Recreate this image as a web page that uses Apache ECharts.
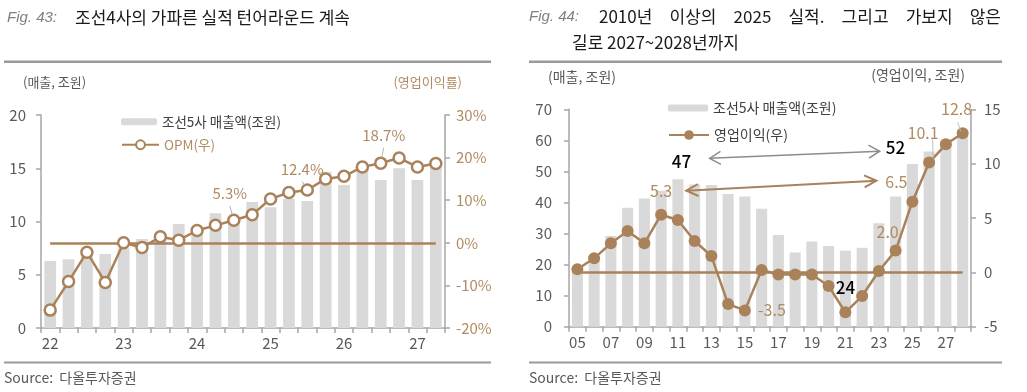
<!DOCTYPE html>
<html><head><meta charset="utf-8">
<script src="https://cdn.jsdelivr.net/npm/echarts@6/dist/echarts.min.js"></script>
<style>html,body{margin:0;padding:0;background:#fff;}#c{width:1027px;height:392px;}</style>
</head><body><div id="c"></div>
<script>
// ---------- Fig. 43 data (quarterly) ----------
const q_categories = ['22.1Q','22.2Q','22.3Q','22.4Q','23.1Q','23.2Q','23.3Q','23.4Q','24.1Q','24.2Q','24.3Q','24.4Q','25.1Q','25.2Q','25.3Q','25.4Q','26.1Q','26.2Q','26.3Q','26.4Q','27.1Q','27.2Q'];
const q_tick_labels = ['22','23','24','25','26','27'];
const q_revenue = [6.3, 6.45, 7.1, 6.95, 7.5, 8.35, 8.9, 9.77, 9.4, 10.77, 10.2, 11.83, 11.33, 12.14, 11.92, 14.68, 13.43, 15.4, 13.9, 15.0, 13.9, 15.15];
const q_opm = [-15.8, -9.1, -2.2, -9.3, 0.0, -1.1, 1.4, 0.6, 2.9, 4.1, 5.3, 6.6, 10.3, 11.8, 12.4, 15.0, 15.6, 17.8, 18.7, 19.9, 17.8, 18.6];
const q_opm_callouts = [[10, '5.3%'], [14, '12.4%'], [18, '18.7%']];

// ---------- Fig. 44 data (annual) ----------
const y_categories = ['05','06','07','08','09','10','11','12','13','14','15','16','17','18','19','20','21','22','23','24','25','26','27','28'];
const y_revenue = [18.5, 22.5, 29.2, 38.3, 41.3, 43.8, 47.5, 45.8, 45.6, 42.7, 41.9, 38.0, 29.5, 23.9, 27.4, 26.0, 24.5, 25.4, 33.3, 41.9, 52.4, 56.4, 60.3, 63.5];
const y_op = [0.28, 1.29, 2.67, 3.8, 2.67, 5.3, 4.81, 2.88, 1.5, -2.92, -3.5, 0.21, -0.19, -0.19, -0.2, -1.26, -3.68, -2.18, 0.12, 2.0, 6.5, 10.1, 11.78, 12.8];
const y_rev_callouts = [[6, '47'], [20, '52'], [16, '24']];
const y_op_callouts = [[5, '5.3'], [20, '6.5'], [19, '2.0'], [21, '10.1'], [23, '12.8'], [10, '-3.5']];

const FONT = "'Noto Sans CJK KR','Noto Sans',sans-serif";
const BROWN = '#A9825A', BROWN_T = '#B08B62', GRAY_T = '#595959', DARK_T = '#404040', BAR = '#D9D9D9', AXIS = '#A6A6A6';

const chart = echarts.init(document.getElementById('c'), null, {renderer: 'canvas'});

function xAx(grid, data, interval, fmt) {
  return {type: 'category', gridIndex: grid, data: data, boundaryGap: true,
    axisLine: {lineStyle: {color: AXIS, width: 1.5}},
    axisTick: {show: true, interval: 0, length: 5, lineStyle: {color: AXIS, width: 1.5}},
    axisLabel: {interval: interval, formatter: fmt, color: GRAY_T, fontSize: 15, margin: 8, fontFamily: FONT}};
}
function yAx(grid, pos, min, max, step, color, margin, fmt) {
  return {type: 'value', gridIndex: grid, position: pos, min: min, max: max, interval: step,
    axisLine: {show: true, lineStyle: {color: AXIS, width: 1.5}},
    axisTick: {show: true, length: 5, lineStyle: {color: AXIS, width: 1.5}},
    splitLine: {show: false},
    axisLabel: {color: color, fontSize: 15, margin: margin, fontFamily: FONT, formatter: fmt || '{value}'}};
}

const option = {
  animation: false,
  backgroundColor: '#fff',
  textStyle: {fontFamily: FONT},
  grid: [
    {left: 41, top: 115, width: 404, height: 213},
    {left: 569, top: 109.3, width: 402, height: 217.4}
  ],
  xAxis: [
    xAx(0, q_categories, 3, (v, i) => q_tick_labels[Math.floor(i / 4)]),
    xAx(1, y_categories, 1, v => v)
  ],
  yAxis: [
    yAx(0, 'left', 0, 20, 5, GRAY_T, 15),
    yAx(0, 'right', -20, 30, 10, BROWN_T, 11, '{value}%'),
    yAx(1, 'left', 0, 70, 10, GRAY_T, 17),
    yAx(1, 'right', -5, 15, 5, GRAY_T, 13)
  ],
  legend: [
    {data: ['조선5사 매출액(조원)'], left: 116, top: 110, itemWidth: 36, itemHeight: 7, itemGap: 4, selectedMode: false,
      textStyle: {color: DARK_T, fontSize: 13.5, fontFamily: FONT}},
    {data: ['OPM(우)'], left: 116, top: 133, itemWidth: 37, itemHeight: 11, selectedMode: false,
      textStyle: {color: BROWN_T, fontSize: 13.5, fontFamily: FONT}},
    {data: ['조선5사 매출액(조원)'], left: 663, top: 96, itemWidth: 40, itemHeight: 7, selectedMode: false,
      textStyle: {color: DARK_T, fontSize: 14, fontFamily: FONT}},
    {data: ['영업이익(우)'], left: 663, top: 123, itemWidth: 40, itemHeight: 12, selectedMode: false,
      textStyle: {color: DARK_T, fontSize: 14, fontFamily: FONT}}
  ],
  series: [
    {name: '조선5사 매출액(조원)', type: 'bar', xAxisIndex: 0, yAxisIndex: 0, data: q_revenue,
      barCategoryGap: '36%', itemStyle: {color: BAR}, z: 1},
    {name: 'OPM(우)', type: 'line', xAxisIndex: 0, yAxisIndex: 1, data: q_opm,
      symbol: 'circle', symbolSize: 11, showAllSymbol: true,
      lineStyle: {color: BROWN, width: 2.5}, itemStyle: {color: '#fff', borderColor: BROWN, borderWidth: 2.5}, z: 5,
      markLine: {silent: true, symbol: 'none', label: {show: false}, z: 3,
        lineStyle: {color: BROWN, width: 2.5, type: 'solid'},
        data: [[{coord: [q_categories[0], 0]}, {coord: [q_categories[q_categories.length - 1], 0]}]]}},
    {name: '조선5사 매출액(조원)', type: 'bar', xAxisIndex: 1, yAxisIndex: 2, data: y_revenue,
      barCategoryGap: '34%', itemStyle: {color: BAR}, z: 1},
    {name: '영업이익(우)', type: 'line', xAxisIndex: 1, yAxisIndex: 3, data: y_op,
      symbol: 'circle', symbolSize: 12, showAllSymbol: true,
      lineStyle: {color: BROWN, width: 2.5}, itemStyle: {color: BROWN}, z: 5,
      markLine: {silent: true, symbol: 'none', label: {show: false}, z: 3,
        lineStyle: {color: BROWN, width: 2.5, type: 'solid'},
        data: [[{coord: [y_categories[0], 0]}, {coord: [y_categories[y_categories.length - 1], 0]}]]}}
  ]
};
chart.setOption(option);

// ---------- helpers ----------
function P(seriesIndex, idx, val) {
  const i0 = Math.floor(idx), f = idx - i0;
  const a = chart.convertToPixel({seriesIndex: seriesIndex}, [i0, val]);
  if (!f) return a;
  const b = chart.convertToPixel({seriesIndex: seriesIndex}, [i0 + 1, val]);
  return [a[0] + (b[0] - a[0]) * f, a[1]];
}
function txt(x, y, text, o) {
  o = o || {};
  return {type: 'text', z: 100, style: {text: text, x: x, y: y, fill: o.fill || DARK_T,
    fontSize: o.size || 14, fontFamily: o.family || FONT, fontWeight: o.weight || 'normal',
    fontStyle: o.style || 'normal', align: o.align || 'left', verticalAlign: 'middle'}};
}
function line(p, q, color, w) {
  return {type: 'line', z: 100, shape: {x1: p[0], y1: p[1], x2: q[0], y2: q[1]}, style: {stroke: color, lineWidth: w}};
}
function head(tip, from, color, w, L, W) {
  const dx = tip[0] - from[0], dy = tip[1] - from[1], len = Math.hypot(dx, dy);
  const ux = dx / len, uy = dy / len, nx = -uy, ny = ux;
  return {type: 'polyline', z: 100, shape: {points: [[tip[0] - ux * L + nx * W, tip[1] - uy * L + ny * W], [tip[0], tip[1]], [tip[0] - ux * L - nx * W, tip[1] - uy * L - ny * W]]},
    style: {stroke: color, lineWidth: w, fill: null}};
}

const g = [];
// frame: titles, rules, sources, unit labels
g.push(txt(7, 17.5, 'Fig. 43:', {fill: '#7F7F7F', size: 15, family: "'Liberation Sans',Arial,sans-serif", style: 'italic'}));
g.push(txt(75, 17.5, '조선4사의 가파른 실적 턴어라운드 계속', {fill: '#1A1A1A', size: 17}));
g.push(txt(529, 17, 'Fig. 44:', {fill: '#7F7F7F', size: 15, family: "'Liberation Sans',Arial,sans-serif", style: 'italic'}));
(function () {
  const words = ['2010년', '이상의', '2025', '실적.', '그리고', '가보지', '않은'];
  const c = document.createElement('canvas').getContext('2d');
  c.font = "17px 'Noto Sans CJK KR'";
  const ws = words.map(w => c.measureText(w).width);
  const x0 = 599, x1 = 1001;
  const gap = (x1 - x0 - ws.reduce((a, b) => a + b, 0)) / (words.length - 1);
  let x = x0;
  words.forEach((w, i) => { g.push(txt(x, 17, w, {fill: '#1A1A1A', size: 17})); x += ws[i] + gap; });
})();
g.push(txt(572, 43, '길로 2027~2028년까지', {fill: '#1A1A1A', size: 17}));
g.push({type: 'rect', z: 100, shape: {x: 4, y: 60.5, width: 487, height: 2.5}, style: {fill: '#9A9A9A'}});
g.push({type: 'rect', z: 100, shape: {x: 529, y: 60.5, width: 473, height: 2.5}, style: {fill: '#9A9A9A'}});
g.push({type: 'rect', z: 100, shape: {x: 4, y: 361.5, width: 487, height: 2}, style: {fill: '#9A9A9A'}});
g.push({type: 'rect', z: 100, shape: {x: 529, y: 361.5, width: 473, height: 2}, style: {fill: '#9A9A9A'}});
g.push(txt(4, 378, 'Source:  다올투자증권', {fill: GRAY_T, size: 14}));
g.push(txt(529, 378, 'Source:  다올투자증권', {fill: GRAY_T, size: 14}));
g.push(txt(23, 82, '(매출, 조원)', {fill: GRAY_T, size: 13}));
g.push(txt(462, 82, '(영업이익률)', {fill: BROWN_T, size: 13, align: 'right'}));
g.push(txt(548, 77, '(매출, 조원)', {fill: GRAY_T, size: 14}));
g.push(txt(965, 75, '(영업이익, 조원)', {fill: GRAY_T, size: 14, align: 'right'}));

// Fig.43 callouts with leader lines
const q_off = {10: [-4, -27], 14: [-5, -21], 18: [3, -28]};
q_opm_callouts.forEach(([i, t]) => {
  const m = P(1, i, q_opm[i]);
  const lx = m[0] + q_off[i][0], ly = m[1] + q_off[i][1];
  g.push(txt(lx, ly, t, {fill: BROWN_T, size: 15, align: 'center'}));
  const s = [lx, ly + 12.5];
  const vx = s[0] - m[0], vy = s[1] - m[1], len = Math.hypot(vx, vy);
  g.push(line(s, [m[0] + vx / len * 6, m[1] + vy / len * 6], '#B5B5B5', 1));
});

// Fig.44 revenue callouts (black)
const r_off = {6: [3.5, -18], 20: [-17, -16], 16: [0, 37]};
y_rev_callouts.forEach(([i, t]) => {
  const b = P(2, i, y_revenue[i]);
  g.push(txt(b[0] + r_off[i][0], b[1] + r_off[i][1], t, {fill: '#000', size: 17, weight: 500, align: 'center'}));
});
// Fig.44 OP callouts (brown)
const o_off = {5: [0, -24], 20: [-16, -20], 19: [-8, -19], 21: [-6, -30], 23: [-6, -24], 10: [27, 0]};
y_op_callouts.forEach(([i, t]) => {
  const m = P(3, i, y_op[i]);
  const lx = m[0] + o_off[i][0], ly = m[1] + o_off[i][1];
  g.push(txt(lx, ly, t, {fill: BROWN_T, size: 16, align: 'center'}));
  if (i === 21) g.push(line([m[0] + 3.5, ly + 7], [m[0] + 4, m[1] - 4], '#C0C0C0', 1));
  if (i === 23) g.push(line([lx + 1, ly + 13], [m[0] - 2, m[1] - 2], '#C0C0C0', 1));
});
// Fig.44 arrows (anchored in data space of the left axis)
(function () {
  const a1 = P(2, 7.9, 54.2), a2 = P(2, 18.05, 56.5);
  g.push(line(a1, a2, '#8C8C8C', 1.5));
  g.push(head(a1, a2, '#8C8C8C', 1.5, 11, 6.5));
  g.push(head(a2, a1, '#8C8C8C', 1.5, 11, 6.5));
  const b1 = P(2, 6.5, 43.8), b2 = P(2, 17.85, 47.0);
  g.push(line(b1, b2, BROWN, 2));
  g.push(head(b1, b2, BROWN, 2, 12, 6));
  g.push(head(b2, b1, BROWN, 2, 12, 6));
})();

chart.setOption({graphic: g});
</script></body></html>
